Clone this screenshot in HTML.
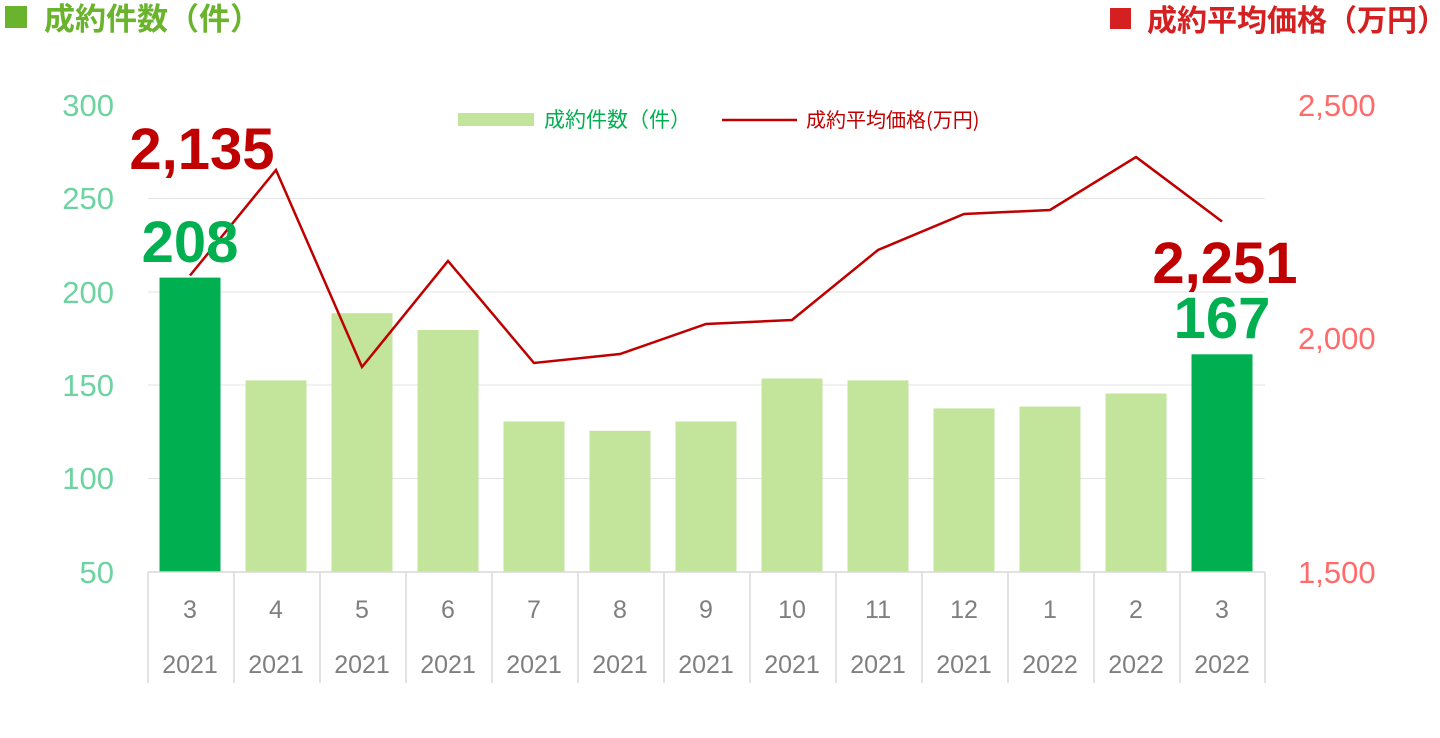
<!DOCTYPE html>
<html><head><meta charset="utf-8"><style>
html,body{margin:0;padding:0;background:#fff;}
svg{display:block;font-family:"Liberation Sans","Noto Sans CJK JP",sans-serif;}
</style></head><body>
<svg width="1440" height="738" viewBox="0 0 1440 738" xmlns="http://www.w3.org/2000/svg">
<rect x="5" y="6" width="22" height="22" fill="#6ab42d"/>
<text x="44" y="30" font-size="31" font-weight="bold" fill="#6ab42d" font-family="'Noto Sans CJK JP',sans-serif">成約件数（件）</text>
<rect x="1110" y="8" width="21" height="21" fill="#d42020"/>
<text x="1447" y="31" font-size="30" font-weight="bold" fill="#d42020" text-anchor="end" font-family="'Noto Sans CJK JP',sans-serif">成約平均価格（万円）</text>
<g stroke="#e3e3e3" stroke-width="1">
<line x1="148" y1="198.5" x2="1265" y2="198.5"/>
<line x1="148" y1="292" x2="1265" y2="292"/>
<line x1="148" y1="385" x2="1265" y2="385"/>
<line x1="148" y1="478.5" x2="1265" y2="478.5"/>
</g>
<g font-size="31" fill="#6dd3a0" text-anchor="end">
<text x="114" y="116">300</text><text x="114" y="209">250</text><text x="114" y="303">200</text>
<text x="114" y="396">150</text><text x="114" y="489">100</text><text x="114" y="583">50</text>
</g>
<g font-size="31" fill="#ff6b6b">
<text x="1298" y="116">2,500</text><text x="1298" y="349">2,000</text><text x="1298" y="583">1,500</text>
</g>
<rect x="458" y="113" width="76" height="13" fill="#c2e59b"/>
<text x="544" y="127" font-size="21" fill="#00b050" font-family="'Noto Sans CJK JP',sans-serif">成約件数（件）</text>
<line x1="722" y1="120" x2="797" y2="120" stroke="#c00000" stroke-width="2.5"/>
<text x="806" y="127" font-size="20" fill="#c00000" font-family="'Noto Sans CJK JP',sans-serif">成約平均価格(万円)</text>
<rect x="159.5" y="277.6" width="61" height="294.4" fill="#00b050"/>
<rect x="245.5" y="380.4" width="61" height="191.6" fill="#c2e59b"/>
<rect x="331.5" y="313.2" width="61" height="258.8" fill="#c2e59b"/>
<rect x="417.5" y="330" width="61" height="242" fill="#c2e59b"/>
<rect x="503.5" y="421.5" width="61" height="150.5" fill="#c2e59b"/>
<rect x="589.5" y="430.8" width="61" height="141.2" fill="#c2e59b"/>
<rect x="675.5" y="421.5" width="61" height="150.5" fill="#c2e59b"/>
<rect x="761.5" y="378.5" width="61" height="193.5" fill="#c2e59b"/>
<rect x="847.5" y="380.4" width="61" height="191.6" fill="#c2e59b"/>
<rect x="933.5" y="408.4" width="61" height="163.6" fill="#c2e59b"/>
<rect x="1019.5" y="406.6" width="61" height="165.4" fill="#c2e59b"/>
<rect x="1105.5" y="393.5" width="61" height="178.5" fill="#c2e59b"/>
<rect x="1191.5" y="354.3" width="61" height="217.7" fill="#00b050"/>
<polyline fill="none" stroke="#c00000" stroke-width="2.5" points="190,275.5 276,170 362,367 448,261 534,363 620,354 706,324 792,320 878,250 964,214 1050,210 1136,157 1222,221.5"/>
<line x1="148" y1="572" x2="1265" y2="572" stroke="#d9d9d9" stroke-width="1.5"/>
<g stroke="#d9d9d9" stroke-width="1.5">
<line x1="148" y1="572" x2="148" y2="683"/><line x1="234" y1="572" x2="234" y2="683"/><line x1="320" y1="572" x2="320" y2="683"/><line x1="406" y1="572" x2="406" y2="683"/><line x1="492" y1="572" x2="492" y2="683"/><line x1="578" y1="572" x2="578" y2="683"/><line x1="664" y1="572" x2="664" y2="683"/><line x1="750" y1="572" x2="750" y2="683"/><line x1="836" y1="572" x2="836" y2="683"/><line x1="922" y1="572" x2="922" y2="683"/><line x1="1008" y1="572" x2="1008" y2="683"/><line x1="1094" y1="572" x2="1094" y2="683"/><line x1="1180" y1="572" x2="1180" y2="683"/><line x1="1265" y1="572" x2="1265" y2="683"/>
</g>
<g font-size="25" fill="#7f7f7f" text-anchor="middle">
<text x="190" y="618">3</text><text x="276" y="618">4</text><text x="362" y="618">5</text><text x="448" y="618">6</text><text x="534" y="618">7</text><text x="620" y="618">8</text><text x="706" y="618">9</text><text x="792" y="618">10</text><text x="878" y="618">11</text><text x="964" y="618">12</text><text x="1050" y="618">1</text><text x="1136" y="618">2</text><text x="1222" y="618">3</text>
<text x="190" y="673">2021</text><text x="276" y="673">2021</text><text x="362" y="673">2021</text><text x="448" y="673">2021</text><text x="534" y="673">2021</text><text x="620" y="673">2021</text><text x="706" y="673">2021</text><text x="792" y="673">2021</text><text x="878" y="673">2021</text><text x="964" y="673">2021</text><text x="1050" y="673">2022</text><text x="1136" y="673">2022</text><text x="1222" y="673">2022</text>
</g>
<g font-weight="bold" font-size="58" text-anchor="middle">
<text x="202" y="169" fill="#c00000">2,135</text>
<text x="190" y="262" fill="#00b050">208</text>
<text x="1225" y="283" fill="#c00000">2,251</text>
<text x="1222" y="338" fill="#00b050">167</text>
</g>
</svg>
</body></html>
